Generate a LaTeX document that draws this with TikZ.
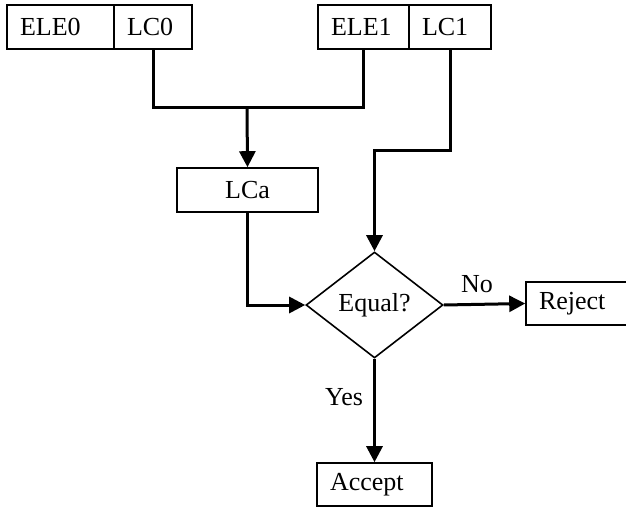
\documentclass[tikz,border=0pt]{standalone}
\usepackage{fontspec}
\setmainfont{Liberation Serif}
\usepackage{tikz}
\usetikzlibrary{arrows.meta,shapes.geometric}

\begin{document}
\begin{tikzpicture}%
                [x={(0.5pt,0pt)},
                y={(0pt,-0.5pt)},
                font=\fontsize{13}{15}\selectfont,
                cell/.style={draw, line width=0.8pt, inner xsep=6.5pt, inner ysep=0pt, align=left, minimum height=22pt},
                check/.style={draw, diamond, line width=0.8pt, inner sep=0pt, minimum width=68.5pt, minimum height=53pt},
                wire/.style={line width=1.5pt},
                flow/.style={wire, -{Triangle[length=8pt,width=8pt]}},
                lbl/.style={inner sep=0pt}]
            %
            %% Bounding box of the page
            \useasboundingbox (0,0) rectangle (626,508);
            %%
            %% The two entries
            %%
            \node[cell, text width=40.5pt] (ele0) at (60.5,27) {ELE0};
            \node[cell, text width=26pt] (lc0) at (153,27) {LC0};
            \node[cell, text width=32.5pt] (ele1) at (363.5,27) {ELE1};
            \node[cell, text width=28pt] (lc1) at (450,27) {LC1};
            %%
            %% Derived value and the test
            %%
            \node[cell, minimum width=70.5pt] (lca) at (247.5,190) {LCa};
            \node[check] (test) at (374.5,305) {Equal?};
            \node[cell, text width=40.5pt, minimum height=21.5pt] (reject) at (579.5,303.5) {Reject};
            \node[cell, text width=44.5pt, minimum height=21.5pt] (accept) at (374.5,484.5) {Accept};
            %%
            %% Bends of the connectors
            %%
            \coordinate (join) at (247,108);
            \coordinate (bend) at (374.5,150);
            %%
            %% Drawing connectors
            %%
            \draw[wire] (lc0.south) |- (join) -| (ele1.south);
            \draw[flow] (join) -- (lca.north);
            \draw[flow] (lc1.south) |- (bend) -- (test.north);
            \draw[flow] (lca.south) |- (test.west);
            \draw[flow] (test.east) -- (reject.west);
            \draw[flow] (test.south) -- (accept.north);
            %%
            %% Branch labels
            %%
            \node[lbl] (no) at (477,284) {No};
            \node[lbl] (yes) at (344,397) {Yes};
            %%
            \end{tikzpicture}
\end{document}
